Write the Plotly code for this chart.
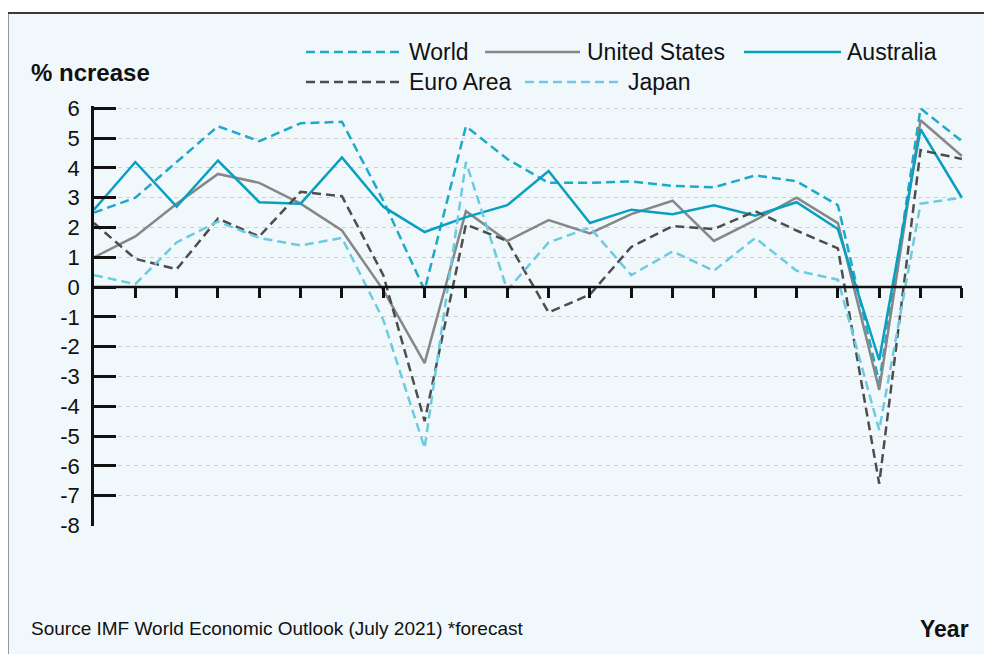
import plotly.graph_objects as go

# ---------------- data ----------------
years = list(range(2001, 2023))
world = [2.5, 3.0, 4.2, 5.4, 4.9, 5.5, 5.55, 2.9, -0.1, 5.4, 4.3, 3.5, 3.5, 3.55, 3.4, 3.35, 3.75, 3.55, 2.75, -3.2, 6.0, 4.9]
united_states = [1.0, 1.7, 2.8, 3.8, 3.5, 2.8, 1.9, -0.1, -2.55, 2.55, 1.55, 2.25, 1.8, 2.45, 2.9, 1.55, 2.25, 3.0, 2.15, -3.45, 5.6, 4.4]
australia = [2.6, 4.2, 2.7, 4.25, 2.85, 2.8, 4.35, 2.7, 1.85, 2.35, 2.75, 3.9, 2.15, 2.6, 2.45, 2.75, 2.4, 2.85, 1.95, -2.45, 5.3, 3.0]
euro_area = [2.15, 0.95, 0.6, 2.3, 1.7, 3.2, 3.05, 0.4, -4.5, 2.1, 1.55, -0.85, -0.25, 1.35, 2.05, 1.95, 2.55, 1.9, 1.3, -6.6, 4.6, 4.3]
japan = [0.4, 0.1, 1.5, 2.2, 1.65, 1.4, 1.65, -1.1, -5.4, 4.2, -0.1, 1.5, 2.0, 0.4, 1.2, 0.55, 1.65, 0.55, 0.25, -4.8, 2.8, 3.0]
y_ticks = list(range(-8, 7))

series_names = ["World", "United States", "Australia", "Euro Area", "Japan"]
series_values = [world, united_states, australia, euro_area, japan]

# ---------------- styles ----------------
FONT = "Liberation Sans, Arial, Helvetica, sans-serif"
DASH = "9px,5px"
styles = {
    "World": dict(color="#1fa9c9", dash=DASH),
    "United States": dict(color="#878787", dash="solid"),
    "Australia": dict(color="#0a9fc0", dash="solid"),
    "Euro Area": dict(color="#4d4d4d", dash=DASH),
    "Japan": dict(color="#6dcbe0", dash=DASH),
}
LW = 2.5

# page body has an 8px margin; compensate so that page pixels match
OFF = 8
W, H = 992, 654
L, R, T, B = 94 - OFF, 26 + OFF, 106 - OFF, 128 + OFF
X_RANGE = [years[0], years[-1] + 0.1]
Y_RANGE = [-8.02, 6.08]


def px_x(px):
    """page pixel x -> paper coordinate"""
    return (px - OFF - L) / (W - L - R)


def px_y(py):
    """page pixel y -> paper coordinate"""
    return (H - B - (py - OFF)) / (H - T - B)


fig = go.Figure()
for name, vals in zip(series_names, series_values):
    st = styles[name]
    fig.add_trace(go.Scatter(
        x=years, y=vals, mode="lines", name=name, showlegend=False,
        line=dict(color=st["color"], width=LW, dash=st["dash"]),
    ))

shapes = [
    # panel background + border
    dict(type="rect", xref="paper", yref="paper",
         x0=px_x(7.5), x1=px_x(1030), y0=px_y(13), y1=px_y(720),
         fillcolor="#f1f8fb", line=dict(color="#3a3a3a", width=2), layer="below"),
    # x axis line at zero
    dict(type="line", xref="x", yref="y", x0=years[0], x1=years[-1], y0=0, y1=0,
         line=dict(color="#111111", width=2.5), layer="above"),
]

annotations = [
    dict(text="<b>% ncrease</b>", x=px_x(29), y=px_y(72), xref="paper", yref="paper",
         xanchor="left", yanchor="middle", showarrow=False,
         font=dict(family=FONT, size=24, color="#111111")),
    dict(text="Source IMF World Economic Outlook (July 2021) *forecast",
         x=px_x(29), y=px_y(628), xref="paper", yref="paper",
         xanchor="left", yanchor="middle", showarrow=False,
         font=dict(family=FONT, size=19, color="#111111")),
    dict(text="<b>Year</b>", x=px_x(971), y=px_y(629), xref="paper", yref="paper",
         xanchor="right", yanchor="middle", showarrow=False,
         font=dict(family=FONT, size=23, color="#111111")),
]

# manual legend (line sample start, end, text start, row centre) in page pixels
legend_layout = {
    "World": (306, 400, 407, 52),
    "United States": (485, 580, 585, 52),
    "Australia": (744, 841, 845, 52),
    "Euro Area": (306, 400, 407, 82),
    "Japan": (525, 620, 626, 82),
}
for name in series_names:
    x0, x1, tx, ry = legend_layout[name]
    st = styles[name]
    shapes.append(dict(type="line", xref="paper", yref="paper",
                       x0=px_x(x0), x1=px_x(x1), y0=px_y(ry), y1=px_y(ry),
                       line=dict(color=st["color"], width=LW, dash=st["dash"])))
    annotations.append(dict(text=name, x=px_x(tx), y=px_y(ry), xref="paper", yref="paper",
                            xanchor="left", yanchor="middle", showarrow=False,
                            font=dict(family=FONT, size=23, color="#111111")))

fig.update_layout(
    width=W, height=H,
    margin=dict(l=L, r=R, t=T, b=B, pad=0),
    paper_bgcolor="white",
    plot_bgcolor="rgba(0,0,0,0)",
    showlegend=False,
    shapes=shapes,
    annotations=annotations,
    font=dict(family=FONT, color="#111111"),
    xaxis=dict(
        range=X_RANGE, anchor="free",
        position=(0 - Y_RANGE[0]) / (Y_RANGE[1] - Y_RANGE[0]),
        showline=False, showgrid=False, zeroline=False,
        tickmode="array", tickvals=years[1:], ticks="outside",
        ticklen=10, tickwidth=2.5, tickcolor="#111111", showticklabels=False,
    ),
    yaxis=dict(
        range=Y_RANGE, tickmode="array", tickvals=y_ticks,
        ticktext=[str(v) for v in y_ticks],
        ticks="inside", ticklen=22, tickwidth=2.5, tickcolor="#111111",
        showline=True, linecolor="#111111", linewidth=2.5,
        showgrid=True, gridcolor="#cdcdcd", gridwidth=1, griddash="4px,4px",
        zeroline=False, ticklabelstandoff=7,
        tickfont=dict(family=FONT, size=22, color="#111111"),
    ),
)

fig.write_html("out.html")
